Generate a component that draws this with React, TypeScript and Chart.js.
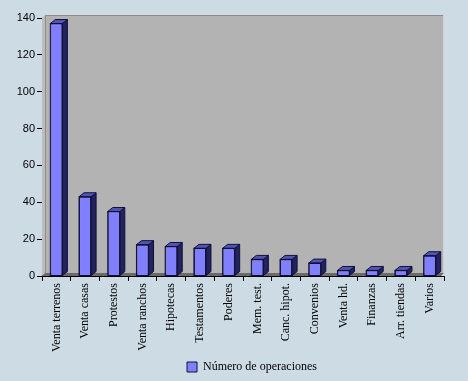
import React, { useEffect, useRef } from "react";
import { Chart, registerables } from "chart.js";

Chart.register(...registerables);

const categories = [
  "Venta terrenos", "Venta casas", "Protestos", "Venta ranchos", "Hipotecas",
  "Testamentos", "Poderes", "Mem. test.", "Canc. hipot.", "Convenios",
  "Venta hd.", "Finanzas", "Arr. tiendas", "Varios",
];
const operaciones = [137, 43, 35, 17, 16, 15, 15, 9, 9, 7, 3, 3, 3, 11];
const seriesName = "Número de operaciones";
const yMax = 140;
const yStep = 20;

const BG = "#cddbe5";
const WALL = "#b3b3b3";
const FRONT = "#8080ff";
const SIDE = "#22225c";
const TOP = "#5454b0";

const wallPlugin = {
  id: "wall3d",
  afterLayout(chart: any) {
    const lg = chart.legend;
    if (lg) {
      lg.left += 30;
      lg.right += 30;
      lg.top += 2;
      lg.bottom += 2;
    }
  },
  beforeDatasetsDraw(chart: any) {
    const { ctx, chartArea: a } = chart;
    const dx = 3, dy = 3;
    ctx.save();
    ctx.fillStyle = "#bdbdbd";
    ctx.beginPath();
    ctx.moveTo(a.left, a.top);
    ctx.lineTo(a.left + dx, a.top - dy);
    ctx.lineTo(a.left + dx, a.bottom - dy);
    ctx.lineTo(a.left, a.bottom);
    ctx.closePath();
    ctx.fill();
    ctx.fillStyle = WALL;
    ctx.fillRect(a.left + dx, a.top - dy, a.right - a.left - dx, a.bottom - a.top);
    ctx.strokeStyle = "#8c8c8c";
    ctx.lineWidth = 1;
    ctx.beginPath();
    ctx.moveTo(a.left + dx + 0.5, a.bottom - dy);
    ctx.lineTo(a.left + dx + 0.5, a.top - dy + 0.5);
    ctx.lineTo(a.right, a.top - dy + 0.5);
    ctx.stroke();
    ctx.strokeStyle = "#d0d0d0";
    ctx.beginPath();
    ctx.moveTo(a.right - 0.5, a.top - dy);
    ctx.lineTo(a.right - 0.5, a.bottom - dy);
    ctx.stroke();
    ctx.fillStyle = "#6a6a6a";
    ctx.beginPath();
    ctx.moveTo(a.left, a.bottom);
    ctx.lineTo(a.left + dx, a.bottom - dy);
    ctx.lineTo(a.right, a.bottom - dy);
    ctx.lineTo(a.right - dx, a.bottom);
    ctx.closePath();
    ctx.fill();
    ctx.restore();
  },
  afterDatasetsDraw(chart: any) {
    const { ctx } = chart;
    const meta = chart.getDatasetMeta(0);
    const dx = 5, dy = 4;
    ctx.save();
    ctx.lineWidth = 1;
    ctx.strokeStyle = "#101040";
    meta.data.forEach((el: any) => {
      const { x, y, base, width } = el.getProps(["x", "y", "base", "width"], true);
      const l = x - width / 2;
      const r = x + width / 2;
      ctx.fillStyle = SIDE;
      ctx.beginPath();
      ctx.moveTo(r, y);
      ctx.lineTo(r + dx, y - dy);
      ctx.lineTo(r + dx, base - dy);
      ctx.lineTo(r, base);
      ctx.closePath();
      ctx.fill();
      ctx.stroke();
      ctx.fillStyle = TOP;
      ctx.beginPath();
      ctx.moveTo(l, y);
      ctx.lineTo(l + dx, y - dy);
      ctx.lineTo(r + dx, y - dy);
      ctx.lineTo(r, y);
      ctx.closePath();
      ctx.fill();
      ctx.stroke();
      ctx.strokeRect(l, y, width, base - y);
    });
    ctx.restore();
  },
};

export default function App() {
  const ref = useRef<HTMLCanvasElement>(null);
  useEffect(() => {
    document.body.style.margin = "0";
    const chart = new Chart(ref.current!, {
      type: "bar",
      data: {
        labels: categories,
        datasets: [
          {
            label: seriesName,
            data: operaciones,
            backgroundColor: FRONT,
            borderColor: "#101040",
            borderWidth: 1,
            barPercentage: 0.42,
            categoryPercentage: 1,
          },
        ],
      },
      options: {
        animation: false,
        responsive: false,
        layout: { padding: { top: 18, right: 24, left: 0, bottom: 0 } },
        plugins: {
          tooltip: { enabled: false },
          legend: {
            position: "bottom",
            labels: {
              color: "#000",
              font: { family: "Liberation Serif", size: 12 },
              boxWidth: 10,
              boxHeight: 10,
              padding: 5,
              generateLabels: () => [
                {
                  text: seriesName,
                  fillStyle: FRONT,
                  strokeStyle: "#101040",
                  lineWidth: 1,
                  datasetIndex: 0,
                } as any,
              ],
            },
          },
        },
        scales: {
          x: {
            grid: {
              offset: true,
              drawOnChartArea: false,
              drawTicks: true,
              tickLength: 5,
              color: "#000",
            },
            border: { color: "#000", width: 1 },
            ticks: {
              minRotation: 90,
              maxRotation: 90,
              autoSkip: false,
              color: "#000",
              padding: 2,
              font: { family: "Liberation Serif", size: 12 },
            },
            afterFit: (s: any) => {
              s.height = 78;
            },
          },
          y: {
            min: 0,
            max: yMax,
            ticks: {
              stepSize: yStep,
              color: "#000",
              padding: 2,
              font: { family: "Liberation Sans", size: 11 },
            },
            grid: {
              drawOnChartArea: false,
              drawTicks: true,
              tickLength: 5,
              color: "#000",
            },
            border: { color: "#000", width: 1 },
            afterFit: (s: any) => {
              s.width = 42;
            },
          },
        },
      },
      plugins: [wallPlugin],
    });
    return () => chart.destroy();
  }, []);
  return (
    <div style={{ width: 468, height: 381, background: BG }}>
      <canvas ref={ref} width={468} height={381} style={{ display: "block" }} />
    </div>
  );
}
